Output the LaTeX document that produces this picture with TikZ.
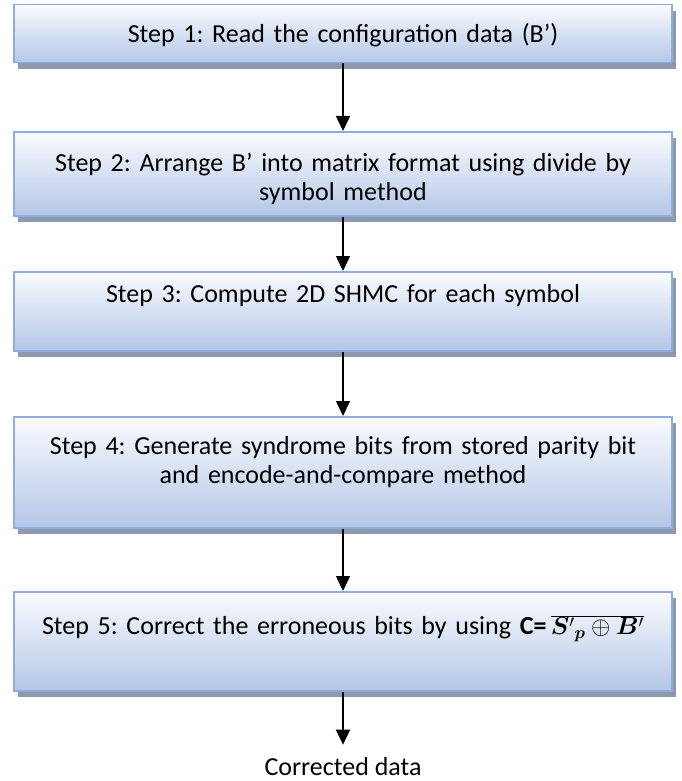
\documentclass[tikz,border=0pt]{standalone}
\usepackage{fontspec}
\setmainfont{Carlito}
\usepackage{bm}
\usetikzlibrary{arrows.meta,shadows}
\frenchspacing

\definecolor{boxline}{RGB}{143,172,220}
\definecolor{boxtop}{RGB}{250,251,254}
\definecolor{boxbottom}{RGB}{180,199,231}
\definecolor{boxshadow}{RGB}{141,153,174}

\tikzstyle{stepbox}=[rectangle,draw=boxline,line width=1.5pt,top color=boxtop,bottom color=boxbottom,
  minimum width=658pt,text width=650pt,align=center,anchor=north,inner xsep=0pt,inner ysep=0pt,
  font=\fontsize{26}{29}\selectfont,
  drop shadow={shadow xshift=4pt,shadow yshift=-6pt,fill=boxshadow,opacity=1}]
\tikzstyle{edge} = [draw,line width=1.5pt]

\begin{document}
\begin{tikzpicture}[x=1pt, y=-1pt, ->, >={Triangle[length=15pt,width=14pt]}]
		\useasboundingbox (0,0) rectangle (681,781);
		\node [stepbox, text height=38pt, text depth=20pt] (step1) at (343,4)   {Step 1: Read the configuration data (B’)};
		\node [stepbox, text height=40pt, text depth=44pt] (step2) at (343,131) {Step 2: Arrange B’ into matrix format using divide by\\ symbol method};
		\node [stepbox, text height=31pt, text depth=48pt] (step3) at (343,271) {Step 3: Compute 2D SHMC for each symbol};
		\node [stepbox, text height=38pt, text depth=73pt] (step4) at (343,416) {Step 4: Generate syndrome bits from stored parity bit\\ and encode-and-compare method};
		\node [stepbox, text height=43pt, text depth=56pt] (step5) at (343,591) {Step 5: Correct the erroneous bits by using \textbf{C=}\,$\overline{{\bm{S}'}_{\bm{p}}\oplus\bm{B}'}$};
		\node [font=\fontsize{26}{29}\selectfont, inner sep=0pt] (done) at (343,767) {Corrected data};

		\draw [edge] (step1) edge (step2);
		\draw [edge] (step2) edge (step3);
		\draw [edge] (step3) edge (step4);
		\draw [edge] (step4) edge (step5);
		\draw [edge] (step5) edge [shorten >=13pt] (done);
	\end{tikzpicture}
\end{document}
